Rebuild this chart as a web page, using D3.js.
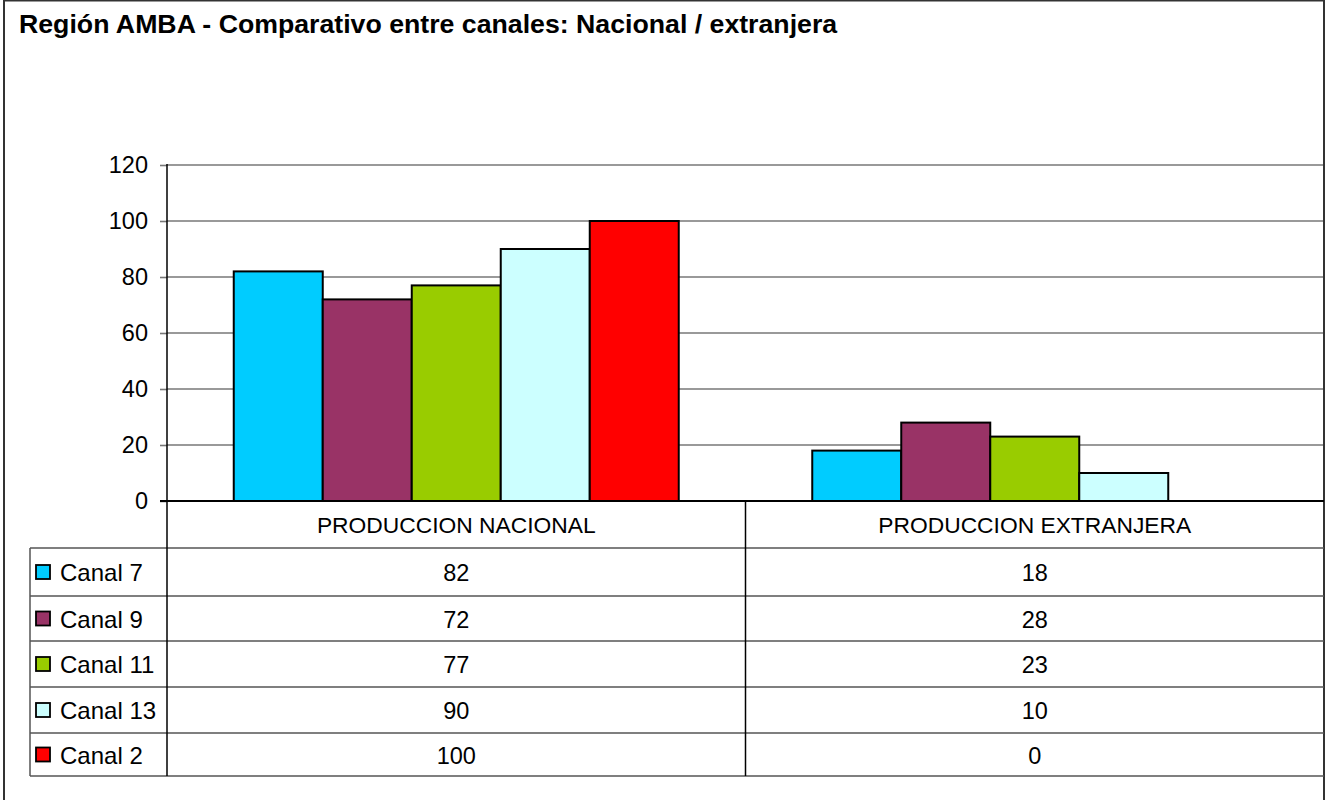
<!DOCTYPE html>
<html>
<head>
<meta charset="utf-8">
<script src="https://cdn.jsdelivr.net/npm/d3@7"></script>
<style>
  body { margin: 0; background: #fff; }
  svg { display: block; font-family: "Liberation Sans", Arial, sans-serif; }
</style>
</head>
<body>
<div id="chart"></div>
<script>
// chart values
const categories = ["PRODUCCION NACIONAL", "PRODUCCION EXTRANJERA"];
const series = ["Canal 7", "Canal 9", "Canal 11", "Canal 13", "Canal 2"];
const nacional = [82, 72, 77, 90, 100];
const extranjera = [18, 28, 23, 10, 0];
const seriesColors = ["#00CCFF", "#993366", "#99CC00", "#CCFFFF", "#FF0000"];
const yTicks = [0, 20, 40, 60, 80, 100, 120];
const title = "Región AMBA - Comparativo entre canales: Nacional / extranjera";

const W = 1325, H = 800;
const plot = {left: 167, right: 1324, top: 165, bottom: 501};
const rowH = [47, 48, 45, 46, 46, 43]; // header row + one row per series
const legendLeft = 30;

const values = series.map((s, i) => [nacional[i], extranjera[i]]);

const svg = d3.select("#chart").append("svg")
  .attr("width", W)
  .attr("height", H);

// outer frame
svg.append("rect")
  .attr("x", 4).attr("y", 0.5)
  .attr("width", 1320).attr("height", H + 10)
  .attr("fill", "none")
  .attr("stroke", "#333")
  .attr("stroke-width", 2);

svg.append("text")
  .attr("x", 19).attr("y", 33)
  .attr("font-size", 26.7)
  .attr("font-weight", "bold")
  .attr("fill", "#000")
  .text(title);

const x = d3.scaleBand()
  .domain(categories)
  .range([plot.left, plot.right])
  .paddingInner(0).paddingOuter(0);

// excel gap width 150% -> outer padding 0.75 of a bar
const xInner = d3.scaleBand()
  .domain(series)
  .range([0, x.bandwidth()])
  .paddingInner(0).paddingOuter(0.75);

const y = d3.scaleLinear()
  .domain([0, 120])
  .range([plot.bottom, plot.top]);

// grid lines
svg.append("g")
  .selectAll("line")
  .data(yTicks.filter(d => d > 0))
  .join("line")
  .attr("x1", plot.left).attr("x2", plot.right - 1)
  .attr("y1", d => y(d)).attr("y2", d => y(d))
  .attr("stroke", "#777")
  .attr("stroke-width", 1.6);

// y axis
const yAxis = svg.append("g")
  .attr("transform", "translate(" + plot.left + ",0)")
  .call(d3.axisLeft(y).tickValues(yTicks).tickSizeInner(7).tickSizeOuter(0).tickPadding(12));
yAxis.select(".domain").remove();
yAxis.selectAll(".tick line").attr("stroke", "#777").attr("stroke-width", 1.6);
yAxis.selectAll(".tick text")
  .attr("font-size", 23.5)
  .attr("font-family", "Liberation Sans, Arial, sans-serif")
  .attr("fill", "#000");

// bars
const groups = svg.append("g")
  .selectAll("g")
  .data(categories)
  .join("g")
  .attr("transform", d => "translate(" + x(d) + ",0)");

groups.selectAll("rect")
  .data((c, ci) => series.map((s, si) => ({s: s, i: si, v: values[si][ci]})).filter(d => d.v > 0))
  .join("rect")
  .attr("x", d => xInner(d.s))
  .attr("width", xInner.bandwidth())
  .attr("y", d => y(d.v))
  .attr("height", d => y(0) - y(d.v))
  .attr("fill", d => seriesColors[d.i])
  .attr("stroke", "#000")
  .attr("stroke-width", 2);

// data table
const rowY = [plot.bottom];
rowH.forEach(h => rowY.push(rowY[rowY.length - 1] + h));
const tableBottom = rowY[rowY.length - 1];

const table = svg.append("g");

// horizontal lines of table
table.selectAll("line.h")
  .data(rowY.slice(1))
  .join("line")
  .attr("class", "h")
  .attr("x1", legendLeft).attr("x2", plot.right)
  .attr("y1", d => d).attr("y2", d => d)
  .attr("stroke", "#555")
  .attr("stroke-width", 1.5);

// vertical lines
table.append("line")
  .attr("x1", legendLeft).attr("x2", legendLeft)
  .attr("y1", rowY[1]).attr("y2", tableBottom)
  .attr("stroke", "#555").attr("stroke-width", 1.5);

table.selectAll("line.v")
  .data([plot.left, x(categories[1])])
  .join("line")
  .attr("class", "v")
  .attr("x1", d => d).attr("x2", d => d)
  .attr("y1", (d, i) => i === 0 ? plot.top - 1 : plot.bottom)
  .attr("y2", tableBottom)
  .attr("stroke", "#000")
  .attr("stroke-width", 1.5);

// zero axis line
svg.append("line")
  .attr("x1", plot.left - 7).attr("x2", plot.right)
  .attr("y1", y(0)).attr("y2", y(0))
  .attr("stroke", "#000")
  .attr("stroke-width", 2);

// category headers
table.selectAll("text.cat")
  .data(categories)
  .join("text")
  .attr("class", "cat")
  .attr("x", d => x(d) + x.bandwidth() / 2)
  .attr("y", rowY[0] + rowH[0] / 2 + 8)
  .attr("text-anchor", "middle")
  .attr("font-size", 22.8)
  .attr("fill", "#000")
  .text(d => d);

// legend rows
const rows = table.selectAll("g.row")
  .data(series)
  .join("g")
  .attr("class", "row")
  .attr("transform", (d, i) => "translate(0," + ((rowY[i + 1] + rowY[i + 2]) / 2) + ")");

rows.append("rect")
  .attr("x", 36).attr("y", -7)
  .attr("width", 14).attr("height", 14)
  .attr("fill", (d, i) => seriesColors[i])
  .attr("stroke", "#000")
  .attr("stroke-width", 1.8);

rows.append("text")
  .attr("x", 60).attr("y", 9)
  .attr("font-size", 24)
  .attr("fill", "#000")
  .text(d => d);

rows.selectAll("text.val")
  .data((d, i) => categories.map((c, ci) => ({c: c, v: values[i][ci]})))
  .join("text")
  .attr("class", "val")
  .attr("x", d => x(d.c) + x.bandwidth() / 2)
  .attr("y", 9)
  .attr("text-anchor", "middle")
  .attr("font-size", 23.5)
  .attr("fill", "#000")
  .text(d => d.v);
</script>
</body>
</html>
